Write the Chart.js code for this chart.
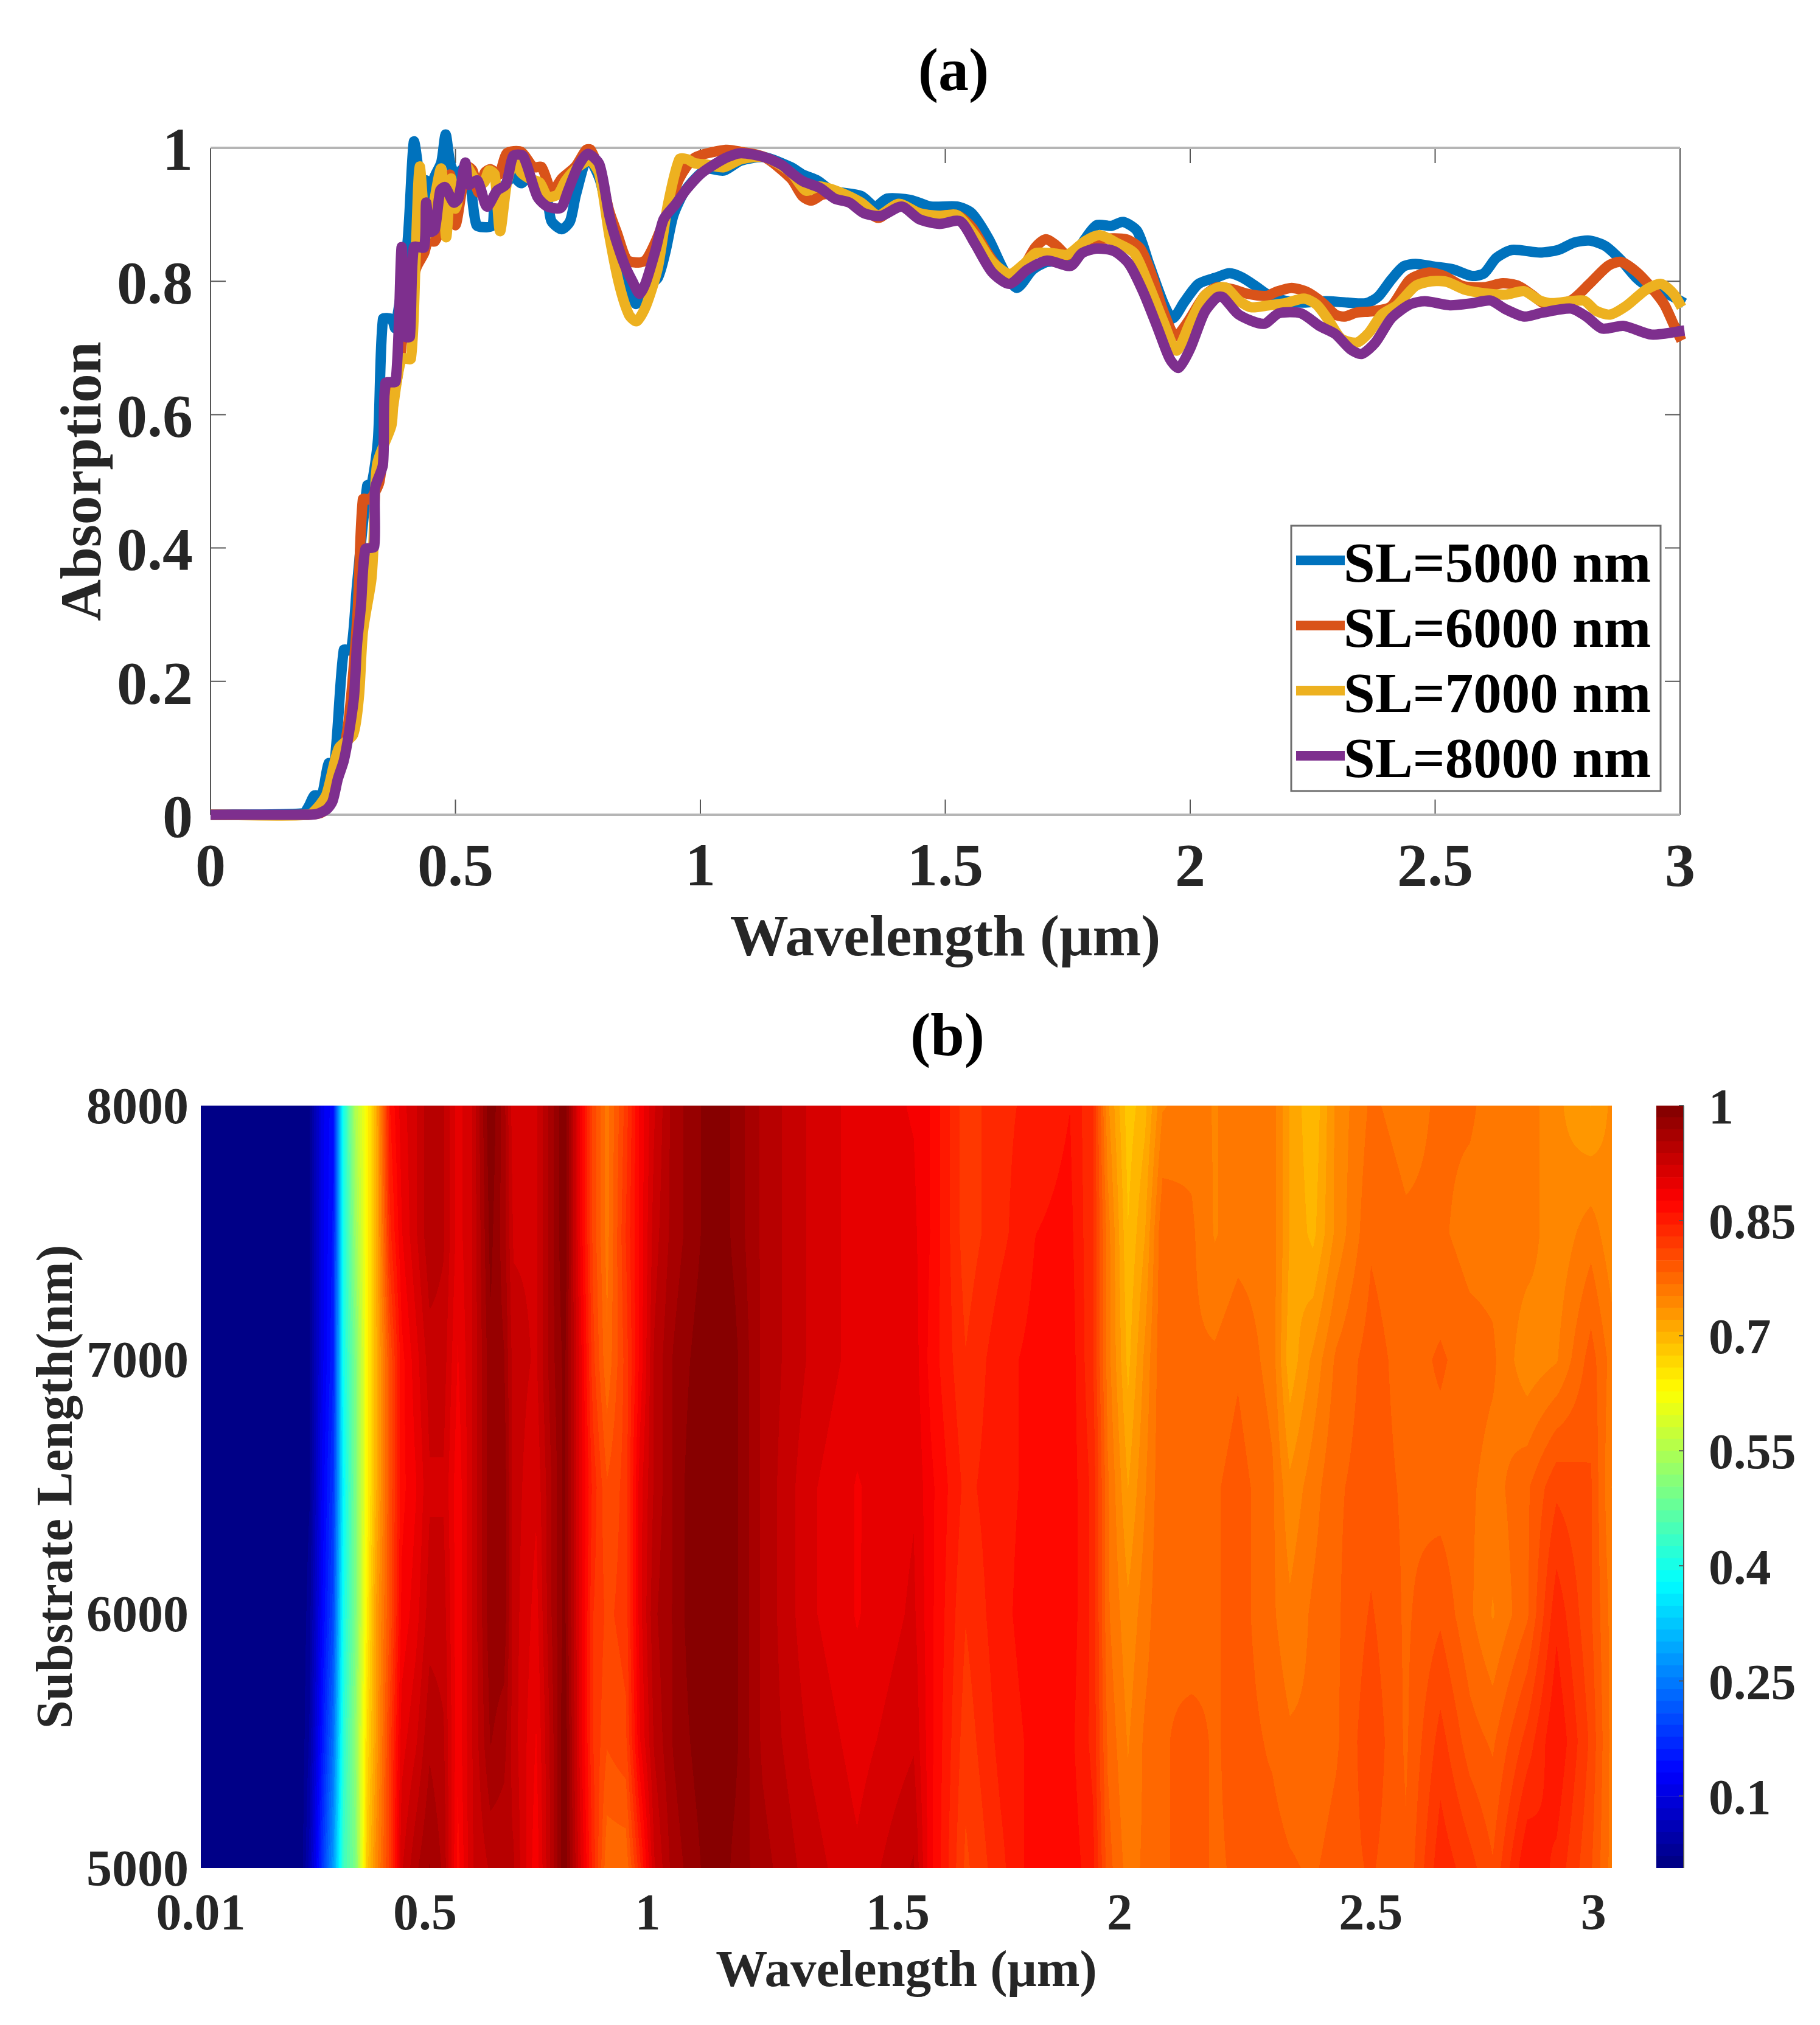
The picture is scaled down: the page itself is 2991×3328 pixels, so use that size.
<!DOCTYPE html>
<html lang="en">
<head>
<meta charset="UTF-8">
<title>Absorption vs wavelength and substrate length</title>
<style>
    html, body { margin: 0; padding: 0; background: #fff; }
    body { position: relative; width: 2991px; height: 3328px; overflow: hidden; }
    canvas { position: absolute; display: block; }
    .panel { position: absolute; font: bold 100px "Liberation Serif", serif; color: #000; transform: translate(-50%, -50%); }
</style>
<script src="https://cdn.jsdelivr.net/npm/chart.js"></script>
</head>
<body>
<div class="panel" style="left:1567px; top:114px;">(a)</div>
<div class="panel" style="left:1557px; top:1700px;">(b)</div>
<canvas id="lines" width="2991" height="1640" style="left:0; top:0;"></canvas>
<canvas id="map" width="2700" height="1688" style="left:0; top:1640px;"></canvas>
<canvas id="cbar" width="291" height="1500" style="left:2700px; top:1700px;"></canvas>
<script>
// panel (a)
const seriesLabels = ['SL=5000 nm', 'SL=6000 nm', 'SL=7000 nm', 'SL=8000 nm'];
const seriesColors = ['#0072BD', '#D95319', '#EDB120', '#7E2F8E'];

const x5000 = [0,.189,.2,.212,.227,.241,.253,.272,.287,.299,.32,.329,.342,.352,.37,.377,.402,.415,.425,.432,.44,.448,.456,.471,.48,.489,.5,.518,.53,.543,.564,.576,.581,.605,.618,.634,.651,.667,.688,.696,.717,.734,.746,.77,.794,.81,.83,.85,.868,.889,.913,.929,.945,.969,1.012,1.048,1.083,1.131,1.185,1.209,1.239,1.268,1.328,1.357,1.381,1.429,1.47,1.524,1.554,1.589,1.619,1.646,1.678,1.708,1.756,1.785,1.809,1.839,1.863,1.892,1.916,1.946,1.964,1.988,2.017,2.055,2.08,2.105,2.131,2.156,2.181,2.22,2.277,2.321,2.359,2.384,2.41,2.435,2.46,2.498,2.536,2.575,2.6,2.625,2.657,2.714,2.752,2.784,2.815,2.847,2.879,2.911,2.942,2.974,3.009];
const y5000 = [0,.002,.012,.029,.029,.077,.077,.247,.247,.344,.494,.496,.564,.743,.743,.73,.857,1.009,.96,.857,.951,.909,.954,.978,1.02,.978,.96,.969,.948,.884,.881,.884,.924,.948,.957,.947,.957,.939,.918,.89,.878,.89,.93,.985,.954,.905,.86,.811,.766,.79,.805,.845,.899,.936,.968,.966,.981,.986,.971,.96,.951,.936,.928,.912,.924,.922,.912,.912,.902,.863,.817,.79,.817,.829,.831,.863,.884,.883,.889,.875,.826,.766,.744,.769,.796,.806,.812,.806,.794,.781,.773,.768,.77,.768,.767,.777,.802,.822,.826,.822,.818,.808,.812,.835,.847,.843,.847,.858,.861,.853,.832,.805,.788,.781,.767];

const x6000 = [0,.19,.23,.255,.28,.3,.311,.326,.345,.36,.38,.4,.42,.436,.444,.458,.471,.489,.5,.522,.535,.547,.56,.572,.589,.605,.634,.659,.676,.697,.717,.745,.767,.776,.794,.814,.83,.85,.874,.889,.909,.933,.957,.988,1.052,1.083,1.131,1.185,1.209,1.227,1.25,1.292,1.328,1.363,1.405,1.447,1.482,1.524,1.554,1.589,1.619,1.637,1.661,1.684,1.705,1.726,1.75,1.785,1.815,1.869,1.899,1.922,1.946,1.97,1.994,2.029,2.055,2.086,2.118,2.156,2.175,2.207,2.238,2.27,2.296,2.315,2.34,2.372,2.41,2.448,2.486,2.518,2.556,2.6,2.638,2.67,2.695,2.727,2.777,2.815,2.853,2.879,2.911,2.942,2.968,2.987,3.003];
const y6000 = [0,0,.005,.05,.13,.3,.473,.473,.5,.6,.65,.76,.82,.842,.86,.86,.887,.96,.884,.972,.966,.933,.963,.968,.96,.992,.994,.971,.971,.934,.954,.972,.997,.997,.966,.905,.872,.832,.828,.832,.86,.905,.954,.985,.997,.994,.986,.954,.927,.921,.93,.93,.915,.895,.915,.902,.898,.899,.881,.839,.811,.805,.823,.851,.863,.854,.839,.854,.863,.863,.848,.808,.753,.718,.738,.778,.791,.788,.781,.778,.784,.79,.784,.768,.75,.747,.753,.755,.762,.802,.813,.808,.793,.791,.797,.793,.781,.765,.771,.796,.823,.829,.814,.79,.765,.735,.711];

const x7000 = [0,.2,.22,.237,.262,.291,.303,.311,.328,.332,.34,.369,.373,.39,.409,.419,.427,.44,.452,.471,.481,.491,.5,.522,.539,.558,.568,.58,.591,.605,.62,.634,.651,.672,.688,.709,.725,.75,.775,.794,.814,.834,.854,.87,.889,.913,.933,.957,.973,.988,1.012,1.048,1.083,1.131,1.185,1.215,1.244,1.286,1.328,1.363,1.405,1.447,1.488,1.524,1.56,1.595,1.631,1.661,1.684,1.72,1.75,1.785,1.815,1.851,1.886,1.916,1.946,1.972,2,2.029,2.055,2.074,2.099,2.124,2.162,2.194,2.232,2.258,2.283,2.308,2.34,2.365,2.391,2.422,2.46,2.492,2.524,2.562,2.6,2.644,2.682,2.714,2.739,2.803,2.828,2.857,2.892,2.93,2.961,2.987,3.003];
const y7000 = [0,0,.012,.031,.1,.12,.178,.274,.351,.394,.525,.583,.613,.684,.684,.842,.972,.869,.902,.969,.866,.954,.909,.972,.954,.948,.966,.96,.875,.948,.981,.963,.954,.948,.927,.93,.951,.971,.981,.96,.869,.796,.75,.74,.763,.82,.912,.983,.983,.977,.975,.971,.983,.986,.963,.936,.942,.933,.918,.899,.916,.902,.898,.899,.869,.83,.811,.826,.842,.842,.84,.86,.869,.857,.842,.793,.738,.696,.738,.778,.79,.79,.771,.761,.764,.767,.774,.765,.741,.714,.708,.723,.75,.764,.793,.8,.799,.787,.782,.78,.785,.771,.767,.771,.756,.75,.764,.787,.796,.781,.761];

const x8000 = [0,.187,.216,.237,.249,.26,.272,.282,.293,.299,.307,.316,.334,.336,.352,.357,.378,.39,.398,.407,.415,.436,.44,.448,.458,.469,.479,.496,.506,.52,.527,.545,.564,.585,.603,.618,.638,.667,.688,.715,.73,.75,.77,.794,.814,.826,.846,.862,.876,.889,.909,.925,.949,.973,1.004,1.052,1.083,1.131,1.167,1.185,1.209,1.244,1.274,1.304,1.334,1.369,1.411,1.447,1.488,1.53,1.56,1.595,1.631,1.667,1.708,1.756,1.779,1.809,1.845,1.875,1.904,1.934,1.958,1.976,2,2.029,2.055,2.067,2.099,2.15,2.181,2.226,2.264,2.296,2.327,2.35,2.378,2.41,2.448,2.479,2.53,2.575,2.613,2.644,2.682,2.72,2.777,2.809,2.841,2.885,2.942,3.009];
const y8000 = [0,0,.001,.008,.02,.054,.081,.12,.178,.255,.313,.398,.402,.49,.525,.647,.65,.851,.717,.717,.851,.851,.918,.874,.878,.936,.941,.918,.924,.978,.945,.951,.912,.936,.945,.988,.988,.927,.912,.91,.936,.972,.991,.975,.899,.866,.823,.799,.781,.799,.848,.893,.915,.939,.963,.985,.992,.986,.974,.963,.95,.94,.924,.918,.902,.898,.912,.893,.886,.89,.857,.814,.796,.817,.831,.823,.842,.849,.845,.826,.784,.729,.684,.67,.699,.753,.776,.776,.75,.736,.752,.752,.733,.721,.698,.691,.708,.744,.765,.77,.764,.767,.771,.758,.747,.753,.759,.747,.729,.733,.72,.726];

const linesXTicks = [0, .5, 1, 1.5, 2, 2.5, 3];
const linesYTicks = [0, .2, .4, .6, .8, 1];

// panel (b)
const mapWavelengths = [.01,.22,.24,.267,.29,.312,.337,.361,.38,.41,.435,.465,.494,.524,.554,.583,.623,.652,.672,.72,.75,.78,.81,.84,.87,.91,.94,.97,1.01,1.06,1.1,1.14,1.2,1.3,1.4,1.52,1.556,1.63,1.704,1.777,1.851,1.9,1.931,1.974,2.01,2.047,2.109,2.158,2.207,2.28,2.317,2.366,2.415,2.489,2.563,2.636,2.698,2.747,2.82,2.882,2.955,3];
const mapLengths = [8000, 7500, 7000, 6500, 6000, 5500, 5000];
const map8000 = [.006,.006,.02,.11,.14,.4,.55,.63,.7,.86,.9,.92,.95,.94,.9,.92,1,.96,.91,.92,.96,1,.9,.81,.76,.82,.88,.92,.96,.98,1,.98,.95,.92,.9,.89,.875,.82,.84,.85,.86,.83,.74,.68,.7,.75,.76,.75,.76,.76,.72,.69,.74,.77,.76,.77,.77,.76,.76,.74,.72,.74];
const map7500 = [.006,.006,.02,.11,.15,.4,.53,.63,.7,.84,.89,.92,.95,.94,.9,.92,.99,.96,.92,.92,.96,1,.9,.81,.76,.83,.88,.93,.96,.98,1,.98,.95,.92,.9,.895,.875,.82,.84,.86,.865,.83,.76,.69,.72,.78,.77,.75,.76,.76,.72,.7,.74,.78,.77,.77,.76,.76,.76,.74,.76,.74];
const map7000 = [.006,.006,.02,.11,.16,.4,.5,.63,.7,.8,.87,.9,.93,.93,.89,.92,.98,.97,.93,.92,.96,.99,.91,.82,.77,.82,.88,.94,.97,.99,1,.99,.95,.92,.9,.9,.87,.83,.855,.865,.87,.83,.76,.7,.74,.78,.77,.77,.78,.76,.71,.74,.77,.79,.775,.785,.775,.77,.74,.75,.79,.76];
const map6500 = [.006,.006,.02,.12,.18,.38,.5,.63,.7,.8,.87,.89,.92,.92,.88,.92,.98,.98,.93,.91,.95,.99,.91,.84,.8,.82,.9,.94,.97,1,1,.99,.95,.91,.89,.905,.88,.84,.855,.865,.87,.84,.77,.72,.75,.78,.77,.78,.79,.77,.74,.76,.78,.79,.78,.775,.77,.76,.78,.81,.8,.75];
const map6000 = [.006,.006,.03,.13,.2,.4,.5,.64,.72,.8,.88,.9,.93,.93,.88,.92,.98,.98,.93,.9,.95,.99,.91,.83,.81,.82,.9,.95,.97,1,1,.99,.95,.91,.89,.91,.88,.83,.855,.87,.87,.84,.77,.74,.76,.78,.77,.78,.79,.77,.755,.77,.78,.8,.78,.795,.77,.75,.78,.84,.8,.76];
const map5500 = [.006,.006,.04,.15,.24,.42,.52,.66,.72,.82,.9,.92,.95,.94,.88,.92,.97,.96,.93,.89,.94,1,.91,.83,.8,.81,.89,.94,.97,.99,1,.99,.95,.92,.9,.92,.88,.82,.85,.865,.865,.84,.78,.75,.77,.78,.79,.78,.79,.78,.77,.77,.78,.81,.78,.82,.79,.78,.82,.86,.81,.76];
const map5000 = [.006,.006,.06,.18,.28,.44,.5,.68,.74,.82,.92,.95,.97,.95,.87,.92,.94,.94,.94,.88,.94,1,.92,.84,.77,.77,.84,.92,.96,.98,1,.98,.96,.93,.91,.94,.88,.81,.84,.87,.87,.85,.79,.76,.77,.78,.79,.78,.785,.79,.785,.78,.79,.8,.785,.84,.82,.8,.86,.84,.8,.76];
const mapRows = [map8000, map7500, map7000, map6500, map6000, map5500, map5000];

const mapXTicks = [.01, .485, .957, 1.487, 1.957, 2.489, 2.961];
const mapXLabels = ['0.01', '0.5', '1', '1.5', '2', '2.5', '3'];
const mapYTicks = [5000, 6000, 7000, 8000];

const cbarMin = .006;
const cbarTicks = [.1, .25, .4, .55, .7, .85, 1];
const cbarLevels = 64;

Chart.defaults.font.family = '"Liberation Serif", serif';
Chart.defaults.font.weight = 'bold';
Chart.defaults.color = '#262626';
Chart.defaults.animation = false;
Chart.defaults.devicePixelRatio = 1;

// MATLAB jet
function jet(t) {
    const c = v => Math.round(255 * Math.max(0, Math.min(1, v)));
    return [c(Math.min(4 * t - 1.5, 4.5 - 4 * t)), c(Math.min(4 * t - .5, 3.5 - 4 * t)), c(Math.min(4 * t + .5, 2.5 - 4 * t))];
}
function levelColor(v) {
    let n = Math.floor((v - cbarMin) / (1 - cbarMin) * cbarLevels);
    n = Math.max(0, Math.min(cbarLevels - 1, n));
    return jet((n + .5) / cbarLevels);
}

// ticks point inwards on all sides, MATLAB style
const boxFrame = {
    id: 'boxFrame',
    beforeDatasetsDraw(chart) {
        const { ctx, chartArea: a, scales } = chart;
        ctx.save();
        ctx.strokeStyle = '#555';
        ctx.lineWidth = 2;
        ctx.beginPath();
        scales.x.ticks.forEach(t => {
            const p = scales.x.getPixelForValue(t.value);
            ctx.moveTo(p, a.top); ctx.lineTo(p, a.top + 25);
            ctx.moveTo(p, a.bottom); ctx.lineTo(p, a.bottom - 25);
        });
        scales.y.ticks.forEach(t => {
            const p = scales.y.getPixelForValue(t.value);
            ctx.moveTo(a.left, p); ctx.lineTo(a.left + 25, p);
            ctx.moveTo(a.right, p); ctx.lineTo(a.right - 25, p);
        });
        ctx.moveTo(a.left, a.top); ctx.lineTo(a.left, a.bottom);
        ctx.moveTo(a.right, a.top); ctx.lineTo(a.right, a.bottom);
        ctx.stroke();
        ctx.strokeStyle = '#b5b5b5';
        ctx.lineWidth = 4;
        ctx.beginPath();
        ctx.moveTo(a.left, a.top); ctx.lineTo(a.right, a.top);
        ctx.moveTo(a.left, a.bottom); ctx.lineTo(a.right, a.bottom);
        ctx.stroke();
        ctx.restore();
    }
};

// legend box sits inside the axes
const insideLegend = {
    id: 'insideLegend',
    afterDatasetsDraw(chart) {
        const { ctx } = chart;
        ctx.save();
        ctx.fillStyle = '#fff';
        ctx.fillRect(2122, 864, 607, 436);
        ctx.strokeStyle = '#6e6e6e';
        ctx.lineWidth = 3;
        ctx.strokeRect(2122, 864, 607, 436);
        ctx.font = 'bold 93px "Liberation Serif", serif';
        ctx.textBaseline = 'alphabetic';
        chart.data.datasets.forEach((ds, i) => {
            const swatchY = 921 + i * 107;
            ctx.fillStyle = ds.borderColor;
            ctx.fillRect(2130, swatchY - 8, 80, 16);
            ctx.fillStyle = '#000';
            ctx.fillText(ds.label, 2208, 956 + i * 107);
        });
        ctx.restore();
    }
};

// contour map painted from the grid through the chart's scales
const mapPainter = {
    id: 'mapPainter',
    beforeDatasetsDraw(chart) {
        const { ctx, chartArea: a, scales } = chart;
        const w = Math.round(a.right - a.left), h = Math.round(a.bottom - a.top);
        const img = ctx.createImageData(w, h);
        const colIndex = [], colFrac = [];
        for (let px = 0; px < w; px++) {
            const x = scales.x.getValueForPixel(a.left + px);
            let i = 0;
            while (i < mapWavelengths.length - 2 && mapWavelengths[i + 1] < x) i++;
            colIndex.push(i);
            colFrac.push(Math.max(0, Math.min(1, (x - mapWavelengths[i]) / (mapWavelengths[i + 1] - mapWavelengths[i]))));
        }
        for (let py = 0; py < h; py++) {
            const y = scales.y.getValueForPixel(a.top + py);
            const r = Math.max(0, Math.min(mapLengths.length - 1.0001, (8000 - y) / 500));
            const r0 = Math.floor(r), rf = r - r0;
            for (let px = 0; px < w; px++) {
                const i = colIndex[px], f = colFrac[px];
                const top = mapRows[r0][i] * (1 - f) + mapRows[r0][i + 1] * f;
                const bot = mapRows[r0 + 1][i] * (1 - f) + mapRows[r0 + 1][i + 1] * f;
                const col = levelColor(top * (1 - rf) + bot * rf);
                const k = (py * w + px) * 4;
                img.data[k] = col[0]; img.data[k + 1] = col[1]; img.data[k + 2] = col[2]; img.data[k + 3] = 255;
            }
        }
        ctx.putImageData(img, Math.round(a.left), Math.round(a.top));
    }
};

const cbarFrame = {
    id: 'cbarFrame',
    afterDatasetsDraw(chart) {
        const { ctx, chartArea: a, scales } = chart;
        ctx.save();
        ctx.strokeStyle = '#555';
        ctx.lineWidth = 2;
        ctx.beginPath();
        scales.y.ticks.forEach(t => {
            const p = scales.y.getPixelForValue(t.value);
            ctx.moveTo(a.right, p); ctx.lineTo(a.right - 8, p);
        });
        ctx.moveTo(a.right, a.top); ctx.lineTo(a.right, a.bottom);
        ctx.stroke();
        ctx.restore();
    }
};

new Chart(document.getElementById('lines'), {
    type: 'line',
    data: {
        datasets: [[x5000, y5000], [x6000, y6000], [x7000, y7000], [x8000, y8000]].map((s, i) => ({
            label: seriesLabels[i],
            data: s[0].map((x, j) => ({ x: x, y: s[1][j] })),
            borderColor: seriesColors[i],
            backgroundColor: seriesColors[i],
            borderWidth: 17,
            pointRadius: 0,
            tension: .25,
            capBezierPoints: false,
            clip: false,
            order: 3 - i
        }))
    },
    options: {
        responsive: false,
        layout: { padding: { top: 243, right: 230, left: 0, bottom: 0 } },
        plugins: { legend: { display: false }, tooltip: { enabled: false } },
        scales: {
            x: {
                type: 'linear', min: 0, max: 3,
                afterBuildTicks: s => { s.ticks = linesXTicks.map(v => ({ value: v })); },
                afterFit: s => { s.height = 301; },
                grid: { display: false }, border: { display: false },
                ticks: { font: { size: 100 }, padding: 22, maxRotation: 0, autoSkip: false, callback: v => String(v) },
                title: { display: true, text: 'Wavelength (μm)', font: { size: 96, weight: 'bold' }, padding: { top: 0, bottom: 37 } }
            },
            y: {
                min: 0, max: 1,
                afterBuildTicks: s => { s.ticks = linesYTicks.map(v => ({ value: v })); },
                afterFit: s => { s.width = 346; },
                grid: { display: false }, border: { display: false },
                ticks: { font: { size: 100 }, padding: 21, labelOffset: 10, autoSkip: false, callback: v => String(v) },
                title: { display: true, text: 'Absorption', font: { size: 95, weight: 'bold' }, padding: { top: 83, bottom: 0 } }
            }
        }
    },
    plugins: [boxFrame, insideLegend]
});

const mapPoints = [];
mapLengths.forEach((len, r) => mapWavelengths.forEach((w, c) => mapPoints.push({ x: w, y: len, v: mapRows[r][c] })));

new Chart(document.getElementById('map'), {
    type: 'scatter',
    data: { datasets: [{ label: 'Absorption', data: mapPoints, pointRadius: 0, clip: true }] },
    options: {
        responsive: false,
        layout: { padding: { top: 177, right: 51, left: 0, bottom: 0 } },
        plugins: { legend: { display: false }, tooltip: { enabled: false } },
        scales: {
            x: {
                type: 'linear', min: .01, max: 3,
                afterBuildTicks: s => { s.ticks = mapXTicks.map(v => ({ value: v })); },
                afterFit: s => { s.height = 258; },
                grid: { display: false }, border: { display: false },
                ticks: { font: { size: 84 }, padding: 21, maxRotation: 0, autoSkip: false, callback: (v, i) => mapXLabels[i] },
                title: { display: true, text: 'Wavelength (μm)', font: { size: 85, weight: 'bold' }, padding: { top: 0, bottom: 35 } }
            },
            y: {
                type: 'linear', min: 5000, max: 8000,
                afterBuildTicks: s => { s.ticks = mapYTicks.map(v => ({ value: v })); },
                afterFit: s => { s.width = 330; },
                grid: { display: false }, border: { display: false },
                ticks: { font: { size: 84 }, padding: 12, labelOffset: 7, autoSkip: false, callback: v => String(v) },
                title: { display: true, text: 'Substrate Length(nm)', font: { size: 84, weight: 'bold' }, padding: { top: 46, bottom: 0 } }
            }
        }
    },
    plugins: [mapPainter]
});

// colorbar: one floating bar per colour level
const cbarDatasets = [];
for (let i = 0; i < cbarLevels; i++) {
    const lo = cbarMin + (1 - cbarMin) * i / cbarLevels;
    const hi = cbarMin + (1 - cbarMin) * (i + 1) / cbarLevels;
    const col = 'rgb(' + jet((i + .5) / cbarLevels).join(',') + ')';
    cbarDatasets.push({ data: [[lo, hi]], backgroundColor: col, borderColor: col, borderWidth: 0, barPercentage: 1, categoryPercentage: 1 });
}
new Chart(document.getElementById('cbar'), {
    type: 'bar',
    data: { labels: [''], datasets: cbarDatasets },
    options: {
        responsive: false,
        layout: { padding: { top: 117, left: 22, right: 0, bottom: 130 } },
        plugins: { legend: { display: false }, tooltip: { enabled: false } },
        scales: {
            x: { stacked: true, display: false, grid: { display: false } },
            y: {
                position: 'right', min: cbarMin, max: 1,
                afterBuildTicks: s => { s.ticks = cbarTicks.map(v => ({ value: v })); },
                afterFit: s => { s.width = 224; },
                grid: { display: false }, border: { display: false },
                ticks: { font: { size: 82 }, padding: 33, labelOffset: 8, autoSkip: false, callback: v => String(v) }
            }
        }
    },
    plugins: [cbarFrame]
});
</script>
</body>
</html>
